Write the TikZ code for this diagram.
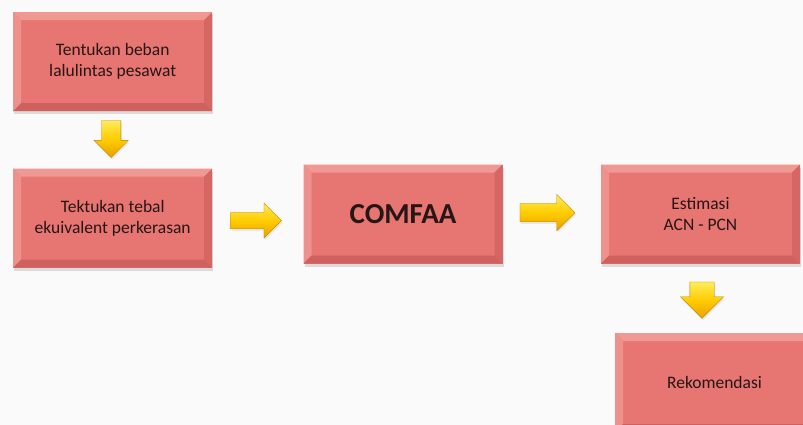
\documentclass[tikz,border=0pt]{standalone}
\usepackage{fontspec}
\setmainfont{Carlito}
\usepackage{tikz}
\usetikzlibrary{shapes.arrows, shadows, positioning, calc}
\definecolor{latar}{RGB}{250,250,250}
\definecolor{kotak}{RGB}{231,117,113}
\definecolor{terang}{RGB}{240,152,147}
\definecolor{gelap}{RGB}{206,96,93}
\definecolor{teks}{RGB}{38,22,22}
\definecolor{kuning}{RGB}{255,204,0}
\definecolor{kuningmuda}{RGB}{255,236,90}
\definecolor{jingga}{RGB}{232,160,0}
\tikzset{
  kotakbox/.style={rectangle, fill=kotak, minimum width=199pt, minimum height=99pt,
                   inner sep=0pt, align=center, text=teks,
                   font=\fontsize{17.5}{21}\selectfont,
                   drop shadow={shadow xshift=1pt, shadow yshift=-3pt, opacity=.25},
                   path picture={
                     % bevel: terang di kiri/atas, gelap di kanan/bawah
                     \coordinate (nw) at (path picture bounding box.north west);
                     \coordinate (ne) at (path picture bounding box.north east);
                     \coordinate (sw) at (path picture bounding box.south west);
                     \coordinate (se) at (path picture bounding box.south east);
                     \fill[terang] (nw) -- (ne) -- ($(ne)+(-8pt,-8pt)$) -- ($(nw)+(8pt,-8pt)$) -- cycle;
                     \fill[terang!80!kotak] (nw) -- (sw) -- ($(sw)+(8pt,8pt)$) -- ($(nw)+(8pt,-8pt)$) -- cycle;
                     \fill[gelap] (sw) -- (se) -- ($(se)+(-8pt,8pt)$) -- ($(sw)+(8pt,8pt)$) -- cycle;
                     \fill[gelap!70!kotak] (ne) -- (se) -- ($(se)+(-8pt,8pt)$) -- ($(ne)+(-8pt,-8pt)$) -- cycle;
                   }},
  panah/.style={single arrow, single arrow head indent=0pt, anchor=tail,
                top color=kuningmuda, bottom color=jingga, middle color=kuning,
                draw=jingga!80!black, line width=.3pt,
                drop shadow={shadow xshift=1pt, shadow yshift=-2pt, opacity=.15}},
  kanan/.style={panah, inner sep=8pt, minimum height=51pt, single arrow head extend=9.5pt},
  bawah/.style={panah, shape border rotate=270, inner sep=9.5pt, minimum height=37pt,
                single arrow head extend=7.5pt}
}
\begin{document}
\begin{tikzpicture}[x=1pt, y=-1pt]
  \fill[latar] (0,0) rectangle (803,425);
  \useasboundingbox (0,0) rectangle (803,425);
  \begin{scope}
    \clip (0,0) rectangle (803,425);
    \node[kotakbox, anchor=north west] (beban) at (13,12)
      {Tentukan beban\\lalulintas pesawat};
    \node[kotakbox, below=57pt of beban] (tebal)
      {Tektukan tebal\\ekuivalent perkerasan};
    \node[kotakbox, right=91pt of tebal, yshift=4pt, font=\fontsize{29}{33}\selectfont\bfseries]
      (comfaa) {COMFAA};
    \node[kotakbox, right=98pt of comfaa] (estimasi) {Estimasi\\ACN - PCN};
    \node[kotakbox, below=69pt of estimasi, xshift=14pt] (rekom) {Rekomendasi};
    % panah kuning di antara kotak
    \node[bawah] (p1) at ($(beban.south)+(-1.5,9)$) {};
    \node[kanan] (p2) at ($(tebal.east)+(18,2.5)$) {};
    \node[kanan, inner sep=9pt, single arrow head extend=9pt, minimum height=55pt]
      (p3) at ($(comfaa.east)+(17,-1.5)$) {};
    \node[bawah, inner sep=12pt, single arrow head extend=9.5pt, minimum height=35pt]
      (p4) at ($(estimasi.south)+(1.5,18)$) {};
  \end{scope}
\end{tikzpicture}
\end{document}
